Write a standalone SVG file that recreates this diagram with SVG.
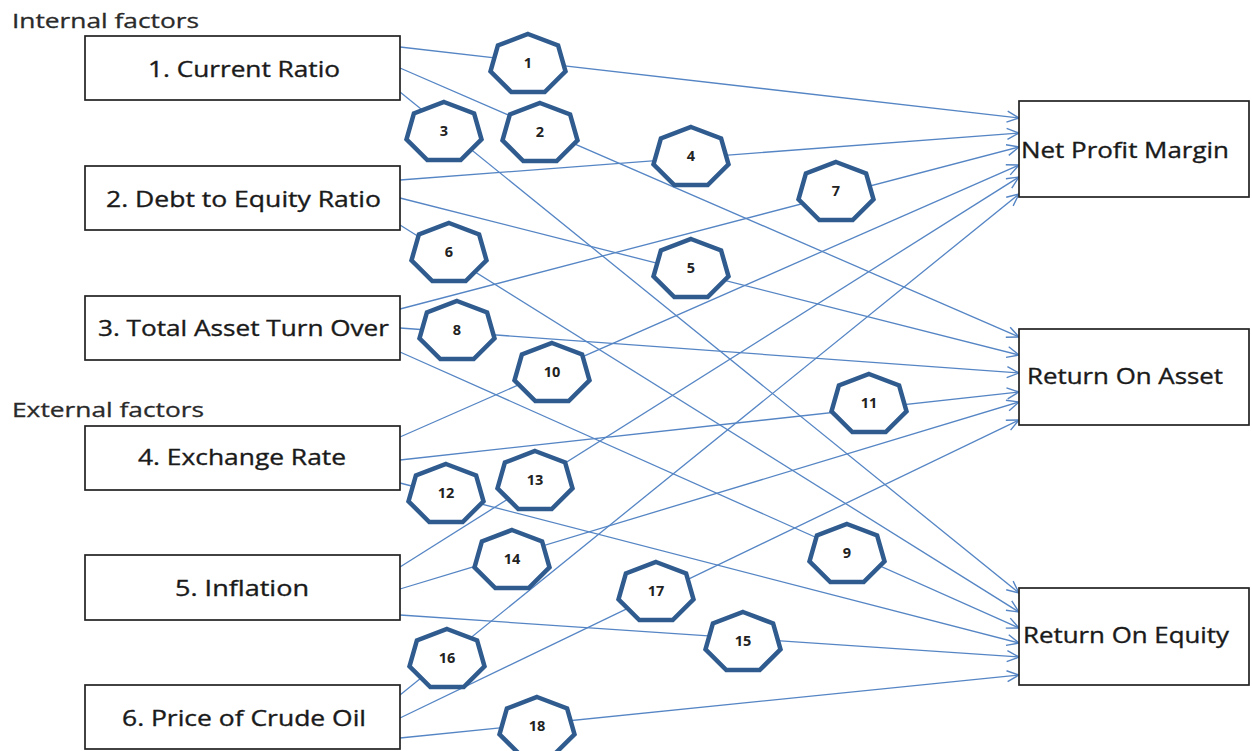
<svg xmlns="http://www.w3.org/2000/svg" xmlns:xlink="http://www.w3.org/1999/xlink" width="1252" height="751" viewBox="0 0 1252 751">
<style>
.box{fill:#fff;stroke:#222;stroke-width:1.7}
.lbl{font-family:"Open Sans","Liberation Sans",sans-serif;font-size:21.5px;fill:#1a1a1a;stroke:#1a1a1a;stroke-width:0.35}
.hdr{font-family:"Open Sans","Liberation Sans",sans-serif;font-size:20px;fill:#2a2a2a;stroke:#2a2a2a;stroke-width:0.3}
.hep{fill:#fff;stroke:#2F5B8F;stroke-width:4.5}
.num{font-family:"Open Sans","Liberation Sans",sans-serif;font-size:14.5px;font-weight:bold;fill:#222;text-anchor:middle}
.con line{stroke:#5585C4;stroke-width:1.3;marker-end:url(#arr)}
</style>
<defs>
<marker id="arr" viewBox="0 0 14 14" refX="13" refY="7" markerWidth="14" markerHeight="14" markerUnits="userSpaceOnUse" orient="auto">
<path d="M1,1.5 L13,7 L1,12.5" fill="none" stroke="#5585C4" stroke-width="1.4"/>
</marker>
<polygon id="hp" points="0,-29 30.1,-17.5 37.5,8.3 16.7,29 -16.7,29 -37.5,8.3 -30.1,-17.5"/>
</defs>
<rect width="1252" height="751" fill="#fff"/>
<text class="hdr" x="12" y="28" textLength="187" lengthAdjust="spacingAndGlyphs">Internal factors</text>
<text class="hdr" x="12" y="417" textLength="192" lengthAdjust="spacingAndGlyphs">External factors</text>
<g class="con">
<line x1="400" y1="47" x2="1019" y2="118"/>
<line x1="400" y1="68" x2="1019" y2="337"/>
<line x1="400" y1="92" x2="1019" y2="593"/>
<line x1="400" y1="180" x2="1019" y2="133"/>
<line x1="400" y1="198" x2="1019" y2="355"/>
<line x1="400" y1="225" x2="1019" y2="612"/>
<line x1="400" y1="309" x2="1019" y2="147"/>
<line x1="400" y1="328" x2="1019" y2="373"/>
<line x1="400" y1="352" x2="1019" y2="628"/>
<line x1="400" y1="437" x2="1019" y2="165"/>
<line x1="400" y1="460" x2="1019" y2="392"/>
<line x1="400" y1="483" x2="1019" y2="643"/>
<line x1="400" y1="567" x2="1019" y2="177"/>
<line x1="400" y1="589" x2="1019" y2="402"/>
<line x1="400" y1="615" x2="1019" y2="657"/>
<line x1="400" y1="695" x2="1019" y2="194"/>
<line x1="400" y1="718" x2="1019" y2="420"/>
<line x1="400" y1="738" x2="1019" y2="675"/>
</g>
<g id="f1"><rect class="box" x="85" y="36" width="315" height="64"/><text class="lbl" x="148" y="77" textLength="192" lengthAdjust="spacingAndGlyphs">1. Current Ratio</text></g>
<g id="f2"><rect class="box" x="85" y="166" width="315" height="64"/><text class="lbl" x="106" y="207" textLength="275" lengthAdjust="spacingAndGlyphs">2. Debt to Equity Ratio</text></g>
<g id="f3"><rect class="box" x="85" y="296" width="315" height="64"/><text class="lbl" x="98" y="336" textLength="291" lengthAdjust="spacingAndGlyphs">3. Total Asset Turn Over</text></g>
<g id="f4"><rect class="box" x="85" y="426" width="315" height="64"/><text class="lbl" x="138" y="465" textLength="208" lengthAdjust="spacingAndGlyphs">4. Exchange Rate</text></g>
<g id="f5"><rect class="box" x="85" y="555" width="315" height="65"/><text class="lbl" x="175" y="596" textLength="134" lengthAdjust="spacingAndGlyphs">5. Inflation</text></g>
<g id="f6"><rect class="box" x="85" y="685" width="315" height="64"/><text class="lbl" x="122" y="726" textLength="244" lengthAdjust="spacingAndGlyphs">6. Price of Crude Oil</text></g>
<g id="npm"><rect class="box" x="1019" y="101" width="230" height="96"/><text class="lbl" x="1021" y="158" textLength="208" lengthAdjust="spacingAndGlyphs">Net Profit Margin</text></g>
<g id="roa"><rect class="box" x="1019" y="329" width="230" height="96"/><text class="lbl" x="1027" y="384" textLength="196" lengthAdjust="spacingAndGlyphs">Return On Asset</text></g>
<g id="roe"><rect class="box" x="1019" y="588" width="230" height="97"/><text class="lbl" x="1023" y="643" textLength="206" lengthAdjust="spacingAndGlyphs">Return On Equity</text></g>
<g id="h1"><use href="#hp" class="hep" x="528" y="63"/><text class="num" x="528" y="68">1</text></g>
<g id="h2"><use href="#hp" class="hep" x="540" y="132"/><text class="num" x="540" y="137">2</text></g>
<g id="h3"><use href="#hp" class="hep" x="444" y="131"/><text class="num" x="444" y="136">3</text></g>
<g id="h4"><use href="#hp" class="hep" x="691" y="156"/><text class="num" x="691" y="161">4</text></g>
<g id="h5"><use href="#hp" class="hep" x="691" y="268"/><text class="num" x="691" y="273">5</text></g>
<g id="h6"><use href="#hp" class="hep" x="449" y="252"/><text class="num" x="449" y="257">6</text></g>
<g id="h7"><use href="#hp" class="hep" x="836" y="191"/><text class="num" x="836" y="196">7</text></g>
<g id="h8"><use href="#hp" class="hep" x="457" y="330"/><text class="num" x="457" y="335">8</text></g>
<g id="h9"><use href="#hp" class="hep" x="847" y="553"/><text class="num" x="847" y="558">9</text></g>
<g id="h10"><use href="#hp" class="hep" x="552" y="372"/><text class="num" x="552" y="377">10</text></g>
<g id="h11"><use href="#hp" class="hep" x="869" y="403"/><text class="num" x="869" y="408">11</text></g>
<g id="h12"><use href="#hp" class="hep" x="446" y="493"/><text class="num" x="446" y="498">12</text></g>
<g id="h13"><use href="#hp" class="hep" x="535" y="480"/><text class="num" x="535" y="485">13</text></g>
<g id="h14"><use href="#hp" class="hep" x="512" y="559"/><text class="num" x="512" y="564">14</text></g>
<g id="h15"><use href="#hp" class="hep" x="743" y="641"/><text class="num" x="743" y="646">15</text></g>
<g id="h16"><use href="#hp" class="hep" x="447" y="658"/><text class="num" x="447" y="663">16</text></g>
<g id="h17"><use href="#hp" class="hep" x="656" y="591"/><text class="num" x="656" y="596">17</text></g>
<g id="h18"><use href="#hp" class="hep" x="537" y="726"/><text class="num" x="537" y="731">18</text></g>
</svg>
